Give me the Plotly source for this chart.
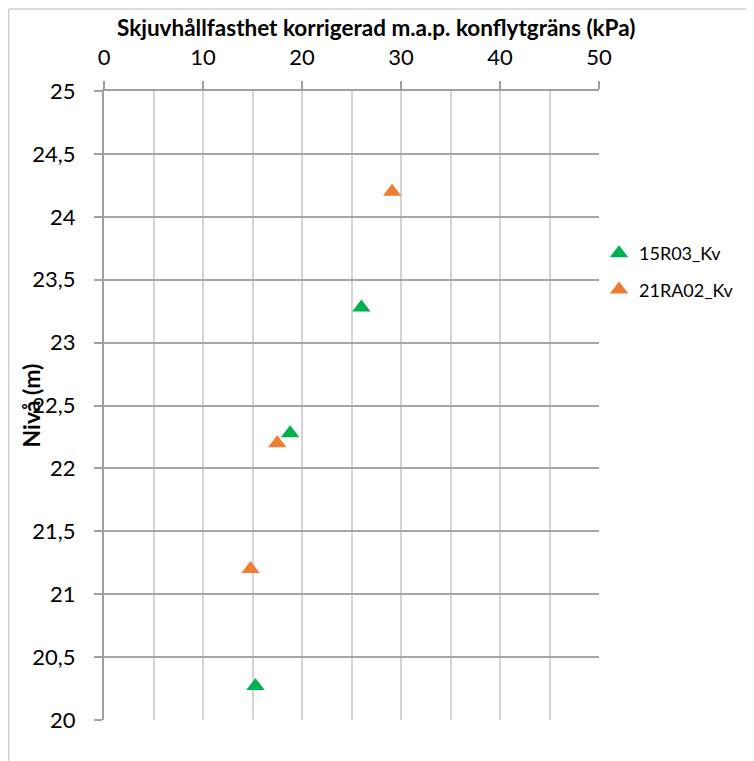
import plotly.graph_objects as go

series_names = ["15R03_Kv", "21RA02_Kv"]
series_colors = ["#00b050", "#ed7d31"]
x_15R03 = [26.0, 18.8, 15.3]
y_15R03 = [23.28, 22.28, 20.27]
x_21RA02 = [29.1, 17.5, 14.8]
y_21RA02 = [24.2, 22.2, 21.2]

x_ticks = [0, 10, 20, 30, 40, 50]
y_ticks = [20, 20.5, 21, 21.5, 22, 22.5, 23, 23.5, 24, 24.5, 25]
y_ticktext = ["20", "20,5", "21", "21,5", "22", "22,5", "23", "23,5", "24", "24,5", "25"]

title_text = "Skjuvhållfasthet korrigerad m.a.p. konflytgräns (kPa)"
ytitle_text = "Nivå (m)"

FONT = "Lato"

fig = go.Figure()
for name, color, xs, ys in zip(series_names, series_colors,
                               [x_15R03, x_21RA02], [y_15R03, y_21RA02]):
    fig.add_trace(go.Scatter(
        x=xs, y=ys, mode="markers", name=name, legendgroup=name,
        marker=dict(symbol="triangle-up", size=16, color=color, line=dict(width=0)),
    ))

# page body has an 8px margin, so the figure is drawn at (8, 8)
W, H = 746, 753
L, R, T, B = 96, 155, 83, 41
pw = W - L - R
ph = H - T - B

def px_x(p):
    return (p - L) / pw

def px_y(p):
    return 1 - (p - T) / ph

fig.update_layout(
    width=W, height=H,
    margin=dict(l=L, r=R, t=T, b=B),
    paper_bgcolor="white", plot_bgcolor="white",
    font=dict(family=FONT, color="#000000"),
    showlegend=True,
    legend=dict(
        x=px_x(591), xanchor="left",
        y=px_y(227), yanchor="top",
        font=dict(size=18, family=FONT),
        itemwidth=30, tracegroupgap=10,
        bgcolor="rgba(0,0,0,0)",
    ),
    xaxis=dict(
        side="top", range=[0, 50], tickvals=x_ticks,
        ticks="outside", ticklen=8, tickcolor="#a0a0a0", tickwidth=1.5,
        tickfont=dict(size=22, family=FONT), ticklabelstandoff=7,
        showgrid=False,
        minor=dict(dtick=5, showgrid=True, gridcolor="#d4d4d4", gridwidth=2, ticks=""),
        showline=True, linecolor="#a0a0a0", linewidth=2,
        zeroline=False, fixedrange=True,
    ),
    yaxis=dict(
        range=[20, 25], tickvals=y_ticks, ticktext=y_ticktext,
        ticks="outside", ticklen=8, tickcolor="#a0a0a0", tickwidth=1.5,
        tickfont=dict(size=22, family=FONT), ticklabelstandoff=14,
        showgrid=True, gridcolor="#a6a6a6", gridwidth=2,
        showline=True, linecolor="#a0a0a0", linewidth=2,
        zeroline=False, fixedrange=True,
    ),
    annotations=[
        dict(text="<b>" + title_text + "</b>", xref="paper", yref="paper",
             x=px_x(368), y=px_y(20), xanchor="center", yanchor="middle",
             showarrow=False, font=dict(size=22.5, family=FONT)),
        dict(text="<b>" + ytitle_text + "</b>", xref="paper", yref="paper",
             x=px_x(22), y=0.5, xanchor="center", yanchor="middle", textangle=-90,
             showarrow=False, font=dict(size=23, family=FONT)),
    ],
    shapes=[
        dict(type="line", xref="paper", yref="paper",
             x0=px_x(0.75), x1=px_x(W + 5), y0=px_y(1), y1=px_y(1),
             line=dict(color="#d0d0d0", width=1.5)),
        dict(type="line", xref="paper", yref="paper",
             x0=px_x(0.75), x1=px_x(0.75), y0=px_y(1), y1=px_y(H + 5),
             line=dict(color="#d0d0d0", width=1.5)),
    ],
)

fig.write_html("out.html")
